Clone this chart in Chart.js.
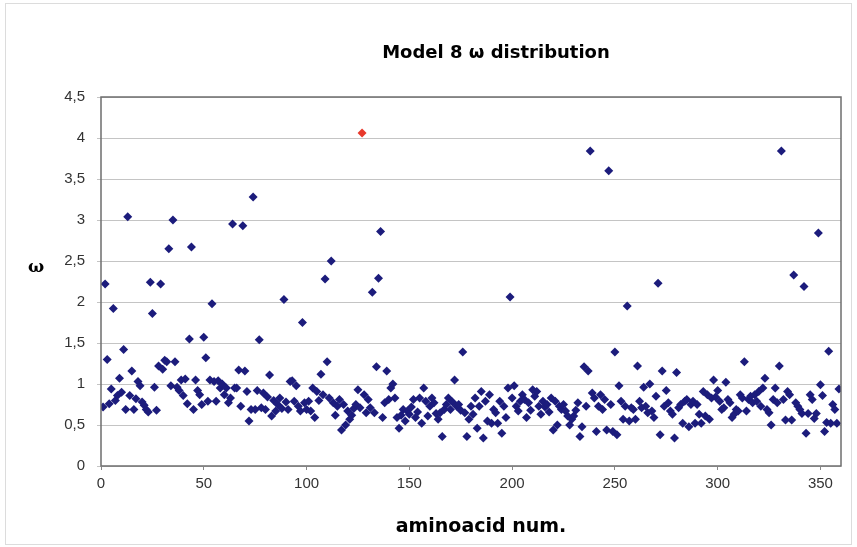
<!DOCTYPE html>
<html>
<head>
<meta charset="utf-8">
<script src="https://cdn.jsdelivr.net/npm/chart.js@4.4.1/dist/chart.umd.min.js"></script>
<style>
  html, body { margin: 0; padding: 0; background: #fff; }
  #wrap { width: 857px; height: 547px; position: relative; }
</style>
</head>
<body>
<div id="wrap"><canvas id="omegaChart" width="857" height="547"></canvas></div>
<script>
// omega per residue (residues 1..359), in blocks of 60
const omega1 = [0.72, 2.22, 1.30, 0.76, 0.94, 1.92, 0.80, 0.86, 1.07, 0.90,
    1.42, 0.69, 3.04, 0.86, 1.16, 0.69, 0.82, 1.03, 0.98, 0.78,
    0.74, 0.69, 0.66, 2.24, 1.86, 0.96, 0.68, 1.22, 2.22, 1.18,
    1.29, 1.27, 2.65, 0.98, 3.00, 1.27, 0.96, 0.92, 1.05, 0.86,
    1.06, 0.76, 1.55, 2.67, 0.69, 1.05, 0.92, 0.87, 0.75, 1.57,
    1.32, 0.79, 1.05, 1.98, 1.03, 0.79, 1.04, 0.95, 1.00, 0.87];
const omega2 = [0.95, 0.77, 0.83, 2.95, 0.95, 0.95, 1.17, 0.73, 2.93, 1.16,
    0.91, 0.55, 0.69, 3.28, 0.69, 0.92, 1.54, 0.71, 0.89, 0.69,
    0.84, 1.11, 0.61, 0.80, 0.67, 0.75, 0.83, 0.70, 2.03, 0.78,
    0.69, 1.03, 1.04, 0.79, 0.98, 0.73, 0.67, 1.75, 0.77, 0.69,
    0.79, 0.67, 0.95, 0.59, 0.91, 0.80, 1.12, 0.87, 2.28, 1.27,
    0.83, 2.50, 0.77, 0.62, 0.73, 0.81, 0.44, 0.75, 0.50, 0.67];
const omega3 = [0.57, 0.62, 0.70, 0.75, 0.93, 0.71, 4.06, 0.87, 0.65, 0.81,
    0.71, 2.12, 0.65, 1.21, 2.29, 2.86, 0.59, 0.77, 1.16, 0.81,
    0.95, 1.00, 0.83, 0.59, 0.46, 0.62, 0.69, 0.55, 0.67, 0.63,
    0.72, 0.81, 0.59, 0.66, 0.83, 0.52, 0.95, 0.79, 0.61, 0.73,
    0.83, 0.77, 0.64, 0.57, 0.65, 0.36, 0.69, 0.75, 0.83, 0.69,
    0.78, 1.05, 0.73, 0.75, 0.68, 1.39, 0.65, 0.36, 0.57, 0.73];
const omega4 = [0.63, 0.83, 0.46, 0.73, 0.91, 0.34, 0.79, 0.55, 0.87, 0.52,
    0.69, 0.65, 0.52, 0.79, 0.40, 0.73, 0.59, 0.95, 2.06, 0.83,
    0.98, 0.73, 0.67, 0.79, 0.87, 0.81, 0.59, 0.77, 0.68, 0.93,
    0.85, 0.91, 0.73, 0.63, 0.79, 0.72, 0.75, 0.66, 0.83, 0.44,
    0.79, 0.50, 0.73, 0.69, 0.75, 0.67, 0.61, 0.50, 0.57, 0.61,
    0.68, 0.77, 0.36, 0.48, 1.21, 0.73, 1.16, 3.84, 0.89, 0.83];
const omega5 = [0.42, 0.73, 0.87, 0.69, 0.81, 0.44, 3.60, 0.75, 0.42, 1.39,
    0.38, 0.98, 0.79, 0.57, 0.73, 1.95, 0.55, 0.71, 0.69, 0.57,
    1.22, 0.79, 0.71, 0.96, 0.73, 0.65, 1.00, 0.67, 0.59, 0.85,
    2.23, 0.38, 1.16, 0.73, 0.92, 0.77, 0.67, 0.63, 0.34, 1.14,
    0.71, 0.75, 0.52, 0.79, 0.81, 0.48, 0.75, 0.79, 0.52, 0.75,
    0.63, 0.52, 0.91, 0.61, 0.87, 0.57, 0.83, 1.05, 0.84, 0.92];
const omega6 = [0.79, 0.69, 0.71, 1.02, 0.81, 0.77, 0.59, 0.63, 0.69, 0.67,
    0.87, 0.83, 1.27, 0.67, 0.81, 0.85, 0.77, 0.87, 0.79, 0.91,
    0.73, 0.95, 1.07, 0.69, 0.65, 0.50, 0.81, 0.95, 0.77, 1.22,
    3.84, 0.81, 0.56, 0.91, 0.87, 0.56, 2.33, 0.77, 0.73, 0.69,
    0.64, 2.19, 0.40, 0.64, 0.87, 0.81, 0.58, 0.64, 2.84, 0.99,
    0.86, 0.42, 0.53, 1.40, 0.52, 0.75, 0.69, 0.52, 0.94];

const yTicks = [0, 0.5, 1, 1.5, 2, 2.5, 3, 3.5, 4, 4.5];
const xTicks = [0, 50, 100, 150, 200, 250, 300, 350];

const omega = [].concat(omega1, omega2, omega3, omega4, omega5, omega6);
const points = omega.map((w, i) => ({ x: i + 1, y: w }));
const peak = Math.max(...omega);

const navy = '#1c1c7c';
const red = '#e8392c';

// plot box, outer chart border, titles and the upright omega label (Excel style)
const frame = {
    id: 'frame',
    afterDraw(chart) {
        const { ctx, chartArea: a } = chart;
        ctx.save();
        ctx.strokeStyle = '#dcdcdc';
        ctx.lineWidth = 1;
        ctx.strokeRect(5.5, 3.5, chart.width - 11, chart.height - 6);
        ctx.strokeStyle = '#6e6e6e';
        ctx.lineWidth = 1.5;
        ctx.strokeRect(a.left, a.top, a.right - a.left, a.bottom - a.top);
        ctx.fillStyle = '#000';
        ctx.textAlign = 'center';
        ctx.textBaseline = 'middle';
        ctx.font = 'bold 18px "DejaVu Sans"';
        ctx.fillText('Model 8 \u03c9 distribution', (a.left + a.right) / 2 + 25, 53);
        ctx.font = 'bold 19px "DejaVu Sans"';
        ctx.fillText('aminoacid num.', (a.left + a.right) / 2 + 10, 527);
        ctx.font = 'bold 17px "DejaVu Serif"';
        ctx.fillText('\u03c9', 36, 268);
        ctx.restore();
    }
};

new Chart(document.getElementById('omegaChart'), {
    type: 'scatter',
    data: {
        datasets: [{
            label: '\u03c9',
            data: points,
            pointStyle: 'rectRot',
            pointRadius: 4.5,
            pointBorderWidth: 0,
            pointBackgroundColor: ctx => (ctx.raw && ctx.raw.y === peak ? red : navy),
            pointBorderColor: ctx => (ctx.raw && ctx.raw.y === peak ? red : navy)
        }]
    },
    options: {
        responsive: false,
        animation: false,
        devicePixelRatio: 1,
        layout: { padding: { left: 18, right: 16, top: 97, bottom: 0 } },
        plugins: {
            legend: { display: false },
            tooltip: { enabled: false },
            title: { display: false }
        },
        scales: {
            x: {
                type: 'linear',
                min: 0,
                max: 360,
                afterFit: s => { s.height = 81; },
                afterBuildTicks: s => { s.ticks = xTicks.map(v => ({ value: v })); },
                grid: { display: true, drawOnChartArea: false, tickLength: 4, color: '#888' },
                border: { display: false },
                ticks: { color: '#333', font: { family: 'Liberation Sans', size: 15 }, padding: 5 },
                title: { display: false }
            },
            y: {
                min: 0,
                max: 4.5,
                afterFit: s => { s.width = 83; },
                afterBuildTicks: s => { s.ticks = yTicks.map(v => ({ value: v })); },
                grid: { color: '#c4c4c4', lineWidth: 1, tickLength: 4, drawTicks: true },
                border: { display: false },
                ticks: {
                    color: '#333',
                    font: { family: 'Liberation Sans', size: 15 },
                    padding: 12,
                    callback: v => String(v).replace('.', ',')
                },
                title: { display: false }
            }
        }
    },
    plugins: [frame]
});
</script>
</body>
</html>
